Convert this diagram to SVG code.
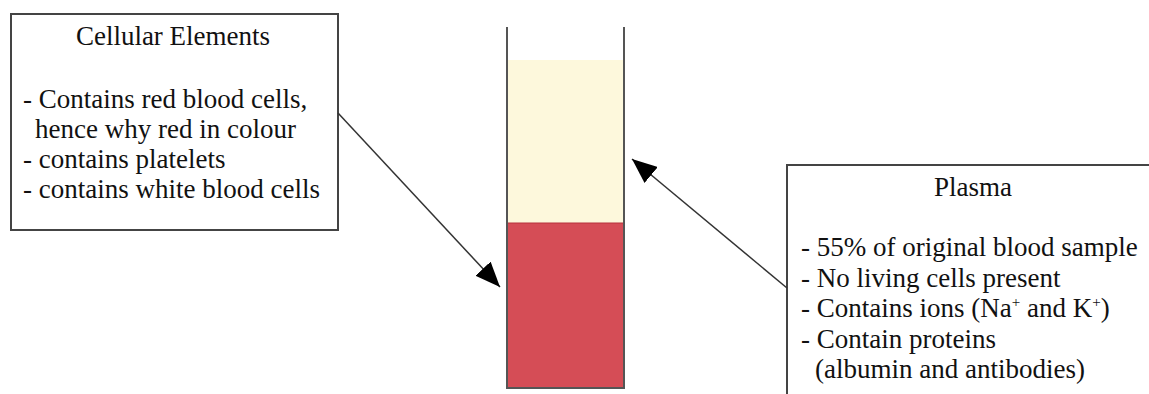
<svg xmlns="http://www.w3.org/2000/svg" width="1149" height="394" viewBox="0 0 1149 394">
<style>
.box{fill:#ffffff;stroke:#444444;stroke-width:2}
text{font-family:"Liberation Serif",Tinos,"Times New Roman","DejaVu Serif",serif;font-size:27px;fill:#111111}
.wall{stroke:#555555;stroke-width:2;fill:none}
.conn{stroke:#333333;stroke-width:1.5;fill:none}
</style>
<defs>
<marker id="ah" viewBox="0 0 12 10" refX="12" refY="5" markerWidth="25" markerHeight="21" markerUnits="userSpaceOnUse" orient="auto">
<path d="M0,0 L12,5 L0,10 z" fill="#000000"/>
</marker>
</defs>
<rect width="1149" height="394" fill="#ffffff"/>
<g id="tube">
<rect x="507" y="60" width="117" height="163" fill="#fdf8dc"/>
<rect x="507" y="223" width="117" height="165" fill="#d54d56" stroke="#b8323d" stroke-width="1"/>
<path class="wall" d="M507,27 V388 H624 V27"/>
</g>
<g id="cellular" font-family="Liberation Serif, serif">
<rect class="box" x="11" y="14" width="327" height="216"/>
<text x="173" y="45" text-anchor="middle">Cellular Elements</text>
<text x="23" y="108">- Contains red blood cells,</text>
<text x="35" y="138">hence why red in colour</text>
<text x="23" y="168">- contains platelets</text>
<text x="23" y="198">- contains white blood cells</text>
</g>
<g id="plasma" font-family="Liberation Serif, serif">
<rect class="box" x="787" y="165" width="380" height="250"/>
<text x="973" y="196" text-anchor="middle">Plasma</text>
<text x="801" y="256">- 55% of original blood sample</text>
<text x="801" y="287">- No living cells present</text>
<text x="801" y="317">- Contains ions (Na<tspan font-size="15" dy="-10">+</tspan><tspan dy="10"> and K</tspan><tspan font-size="15" dy="-10">+</tspan><tspan dy="10">)</tspan></text>
<text x="801" y="348">- Contain proteins</text>
<text x="815" y="378">(albumin and antibodies)</text>
</g>
<g id="connectors">
<line class="conn" x1="338" y1="113" x2="500" y2="287" marker-end="url(#ah)"/>
<line class="conn" x1="787" y1="288" x2="632" y2="159" marker-end="url(#ah)"/>
</g>
</svg>
